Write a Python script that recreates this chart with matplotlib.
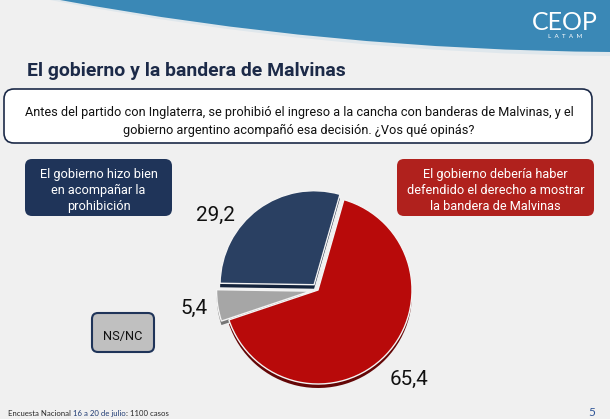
import matplotlib
matplotlib.use("Agg")
from matplotlib import pyplot as plt
from matplotlib import font_manager
from matplotlib.patches import FancyBboxPatch, PathPatch
from matplotlib.path import Path

W, H = 610, 419

# data
categories = ["El gobierno debería haber defendido el derecho a mostrar la bandera de Malvinas",
              "NS/NC",
              "El gobierno hizo bien en acompañar la prohibición"]
values = [65.4, 5.4, 29.2]
colors = ["#b80a0a", "#a6a6a6", "#2a4062"]
# rim under the pie
shadow_colors = ["#640606", "#767676", "#14233b"]

title = "El gobierno y la bandera de Malvinas"
question_lines = ["Antes del partido con Inglaterra, se prohibió el ingreso a la cancha con banderas de Malvinas, y el",
                  "gobierno argentino acompañó esa decisión. ¿Vos qué opinás?"]
left_lines = ["El gobierno hizo bien", "en acompañar la", "prohibición"]
right_lines = ["El gobierno debería haber", "defendido el derecho a mostrar", "la bandera de Malvinas"]
footer_parts = ["Encuesta Nacional", " 16 a 20 de julio", ": 1100 casos"]
page = "5"

# narrow font if there is one, otherwise Roboto a bit smaller
names = {f.name for f in font_manager.fontManager.ttflist}
if "Liberation Sans Narrow" in names:
    NARROW, k = "Liberation Sans Narrow", 1.12
else:
    NARROW, k = "Roboto", 0.9

NAVY = "#1f3459"
RED_BOX = "#b0211d"


def Y(y):
    # picture rows go down, axes go up
    return H - y


def box(ax, x0, y0, x1, y1, fc, ec, lw=0, r=8):
    p = FancyBboxPatch((x0, Y(y1)), x1 - x0, y1 - y0,
                       boxstyle=f"round,pad=0,rounding_size={r}",
                       fc=fc, ec=ec, lw=lw, zorder=2)
    ax.add_patch(p)


def lines(ax, cx, baselines, texts, **kw):
    for yb, s in zip(baselines, texts):
        ax.text(cx, Y(yb), s, ha="center", va="baseline", zorder=3, **kw)


fig = plt.figure(figsize=(W / 100, H / 100), dpi=100)
fig.patch.set_facecolor("#f0f0f0")
ax = fig.add_axes([0, 0, 1, 1])

# blue wave on top
wave = [(60, Y(0)), (330, Y(50)), (610, Y(52)), (610, Y(0)), (60, Y(0))]
codes = [Path.MOVETO, Path.CURVE3, Path.CURVE3, Path.LINETO, Path.CLOSEPOLY]
glow = [(50, Y(0)), (330, Y(54)), (610, Y(56)), (610, Y(0)), (50, Y(0))]
ax.add_patch(PathPatch(Path(glow, codes), fc="#dfe7ec", ec="none", zorder=1))
ax.add_patch(PathPatch(Path(wave, codes), fc="#3a88b6", ec="none", zorder=1))

# logo
ax.text(565, Y(30), "CEOP", color="white", fontsize=18, family="Lato",
        ha="center", va="baseline", zorder=3)
ax.text(565, Y(38), "L  A  T  A  M", color="white", fontsize=4.5, family="Lato",
        ha="center", va="baseline", zorder=3)

# title
ax.text(27, Y(76), title, color="#1c2a48", fontsize=15.5 * k, fontweight="bold",
        family=NARROW, ha="left", va="baseline", zorder=3)

# question box
box(ax, 4, 89, 592, 143, "white", "#1c2a48", lw=1.2, r=10)
lines(ax, 299, [116, 134], question_lines, color="#111111",
      fontsize=10.2 * k, family=NARROW)

# answer boxes
box(ax, 25, 159, 172, 216, NAVY, "none", r=7)
lines(ax, 98.5, [178, 194, 210], left_lines, color="white",
      fontsize=10.2 * k, family=NARROW)
box(ax, 397, 159, 594, 216, RED_BOX, "none", r=7)
lines(ax, 495.5, [178, 194, 210], right_lines, color="white",
      fontsize=10.2 * k, family=NARROW)
box(ax, 92, 313, 154, 352, "#c0c0c0", NAVY, lw=1.5, r=6)
lines(ax, 123, [340], [categories[1]], color="#111111",
      fontsize=10.2 * k, family=NARROW)

# pie, with a dark copy a few px lower for the 3d rim
# (explode is an offset in data units, here pixels)
cx, cy, rad = 318, Y(290), 94
explode = [0.0, 0.08 * rad, 0.07 * rad]
ax.pie(values, colors=shadow_colors, explode=explode, startangle=74,
       counterclock=False, center=(cx, cy - 4), radius=rad, frame=True,
       wedgeprops=dict(lw=0, zorder=2))
ax.pie(values, colors=colors, explode=explode, startangle=74,
       counterclock=False, center=(cx, cy), radius=rad, frame=True,
       wedgeprops=dict(ec="#f4f4f4", lw=1.0, zorder=2))

# value labels
label_pos = [(390, 385), (180, 314), (196, 221)]
for v, (lx, ly) in zip(values, label_pos):
    ax.text(lx, Y(ly), f"{v:.1f}".replace(".", ","), color="#111111",
            fontsize=16.5 * k, family=NARROW, ha="left", va="baseline", zorder=3)

# footer
r = fig.canvas.get_renderer()
x = 8
for s, c in zip(footer_parts, ["#262626", "#1f3b73", "#262626"]):
    t = ax.text(x, Y(416), s, color=c, fontsize=5.6, family="Lato",
                ha="left", va="baseline", zorder=3)
    x += t.get_window_extent(renderer=r).width
ax.text(592, Y(416), page, color="#2f5597", fontsize=8.5, family="Lato",
        ha="center", va="baseline", zorder=3)

ax.set_xlim(0, W)
ax.set_ylim(0, H)
ax.axis("off")

fig.savefig("out.png", dpi=100, facecolor=fig.get_facecolor())
